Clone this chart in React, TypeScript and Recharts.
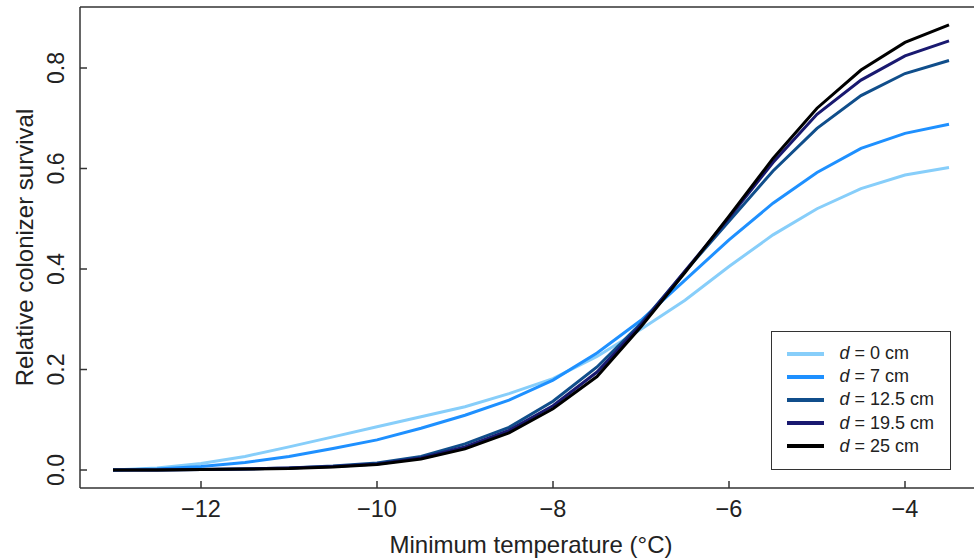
import { LineChart, Line, XAxis, YAxis, Legend, ReferenceLine } from 'recharts';

// survival vs minimum temperature, one curve per burial depth d

const TEMPS = [-13, -12.5, -12, -11.5, -11, -10.5, -10, -9.5, -9, -8.5, -8, -7.5, -7, -6.5, -6, -5.5, -5, -4.5, -4, -3.5];

const SURV_D0 = [0, 0.004, 0.013, 0.027, 0.046, 0.066, 0.086, 0.106, 0.126, 0.152, 0.182, 0.226, 0.28, 0.338, 0.405, 0.468, 0.52, 0.56, 0.587, 0.602];
const SURV_D7 = [0, 0.002, 0.007, 0.015, 0.027, 0.043, 0.06, 0.083, 0.109, 0.139, 0.179, 0.233, 0.298, 0.378, 0.458, 0.531, 0.592, 0.64, 0.67, 0.688];
const SURV_D12_5 = [0, 0, 0.001, 0.002, 0.004, 0.008, 0.014, 0.027, 0.052, 0.085, 0.137, 0.205, 0.292, 0.395, 0.495, 0.595, 0.68, 0.745, 0.789, 0.815];
const SURV_D19_5 = [0, 0, 0.001, 0.002, 0.004, 0.007, 0.012, 0.024, 0.046, 0.079, 0.128, 0.195, 0.289, 0.396, 0.502, 0.612, 0.708, 0.776, 0.824, 0.854];
const SURV_D25 = [0, 0, 0.001, 0.002, 0.003, 0.006, 0.011, 0.022, 0.042, 0.074, 0.122, 0.186, 0.285, 0.393, 0.505, 0.62, 0.72, 0.796, 0.851, 0.886];

const X_TICKS = [-12, -10, -8, -6, -4];
const Y_TICKS = [0, 0.2, 0.4, 0.6, 0.8];

const SERIES = [
  { key: 'd0', depth: '0', color: '#87cefa', values: SURV_D0 },
  { key: 'd7', depth: '7', color: '#1e90ff', values: SURV_D7 },
  { key: 'd12_5', depth: '12.5', color: '#104e8b', values: SURV_D12_5 },
  { key: 'd19_5', depth: '19.5', color: '#191970', values: SURV_D19_5 },
  { key: 'd25', depth: '25', color: '#000000', values: SURV_D25 },
];

const data = TEMPS.map((t, i) => {
  const row: Record<string, number> = { temp: t };
  SERIES.forEach((s) => {
    row[s.key] = s.values[i];
  });
  return row;
});

// R-style padded ranges
const X_DOMAIN: [number, number] = [-13.375, -3.125];
const Y_DOMAIN: [number, number] = [-0.0358, 0.9214];

const FONT = '"Liberation Sans", Arial, Helvetica, sans-serif';
const AXIS_COLOR = '#333';
const TEXT_COLOR = '#222';
const TICK_LEN = 7;

function fmtX(v: number) {
  return v < 0 ? '\u2212' + Math.abs(v) : String(v);
}

function XTick({ x, y, payload }: any) {
  return (
    <g>
      <line x1={x} y1={y} x2={x} y2={y - TICK_LEN} stroke={AXIS_COLOR} strokeWidth={1.5} />
      <text x={x} y={y + 29} textAnchor="middle" fontSize={23.5} fill={TEXT_COLOR} fontFamily={FONT}>
        {fmtX(payload.value)}
      </text>
    </g>
  );
}

function YTick({ x, y, payload }: any) {
  const tx = x - 16;
  return (
    <g>
      <line x1={x} y1={y} x2={x + TICK_LEN} y2={y} stroke={AXIS_COLOR} strokeWidth={1.5} />
      <text
        x={tx}
        y={y}
        transform={`rotate(-90, ${tx}, ${y})`}
        textAnchor="middle"
        fontSize={23}
        fill={TEXT_COLOR}
        fontFamily={FONT}
      >
        {Number(payload.value).toFixed(1)}
      </text>
    </g>
  );
}

function XTitle({ viewBox }: any) {
  const { x, y, width } = viewBox;
  return (
    <text x={x + width / 2} y={y + 65} textAnchor="middle" fontSize={24} fill={TEXT_COLOR} fontFamily={FONT}>
      Minimum temperature (°C)
    </text>
  );
}

function YTitle({ viewBox }: any) {
  const { y, height } = viewBox;
  const tx = 33;
  const ty = y + height / 2;
  return (
    <text
      x={tx}
      y={ty}
      transform={`rotate(-90, ${tx}, ${ty})`}
      textAnchor="middle"
      fontSize={24}
      fill={TEXT_COLOR}
      fontFamily={FONT}
    >
      Relative colonizer survival
    </text>
  );
}

function DepthLegend({ payload }: any) {
  // keep the series order, not the legend's alphabetical sort
  const order = SERIES.map((s) => s.depth);
  const items = [...(payload || [])].sort((a: any, b: any) => order.indexOf(a.value) - order.indexOf(b.value));
  return (
    <div
      style={{
        border: `1.5px solid ${AXIS_COLOR}`,
        background: '#fff',
        boxSizing: 'border-box',
        width: 180,
        height: 139,
        paddingTop: 10,
        fontFamily: FONT,
      }}
    >
      {items.map((entry: any) => (
        <div key={entry.value} style={{ display: 'flex', alignItems: 'center', height: 23.2 }}>
          <span
            style={{ display: 'inline-block', width: 37, height: 4, background: entry.color, marginLeft: 14.5, marginRight: 16 }}
          />
          <span style={{ fontSize: 18, color: TEXT_COLOR, whiteSpace: 'nowrap' }}>
            <i>d</i> = {entry.value} cm
          </span>
        </div>
      ))}
    </div>
  );
}

export default function App() {
  return (
    <div
      style={{
        position: 'absolute',
        left: 0,
        top: 0,
        width: 974,
        height: 559,
        overflow: 'hidden',
        background: '#fff',
        fontFamily: FONT,
      }}
    >
      <LineChart width={990} height={559} data={data} margin={{ top: 7, right: 8, bottom: 0, left: 0 }}>
        <XAxis
          dataKey="temp"
          type="number"
          domain={X_DOMAIN}
          ticks={X_TICKS}
          allowDataOverflow
          height={71}
          tickSize={0}
          tickMargin={0}
          tickLine={false}
          axisLine={{ stroke: AXIS_COLOR, strokeWidth: 1.5 }}
          tick={<XTick />}
          interval={0}
          label={{ content: <XTitle /> }}
        />
        <YAxis
          type="number"
          domain={Y_DOMAIN}
          ticks={Y_TICKS}
          allowDataOverflow
          width={80}
          tickSize={0}
          tickMargin={0}
          tickLine={false}
          axisLine={{ stroke: AXIS_COLOR, strokeWidth: 1.5 }}
          tick={<YTick />}
          interval={0}
          label={{ content: <YTitle /> }}
        />
        <ReferenceLine y={Y_DOMAIN[1]} stroke={AXIS_COLOR} strokeWidth={1.5} />
        <ReferenceLine x={X_DOMAIN[1]} stroke={AXIS_COLOR} strokeWidth={1.5} />
        {SERIES.map((s) => (
          <Line
            key={s.key}
            type="linear"
            dataKey={s.key}
            name={s.depth}
            stroke={s.color}
            strokeWidth={3}
            dot={false}
            isAnimationActive={false}
          />
        ))}
        <Legend
          layout="horizontal"
          verticalAlign="middle"
          align="center"
          wrapperStyle={{ left: 771, top: 331, width: 180, height: 139 }}
          content={<DepthLegend />}
        />
      </LineChart>
    </div>
  );
}
